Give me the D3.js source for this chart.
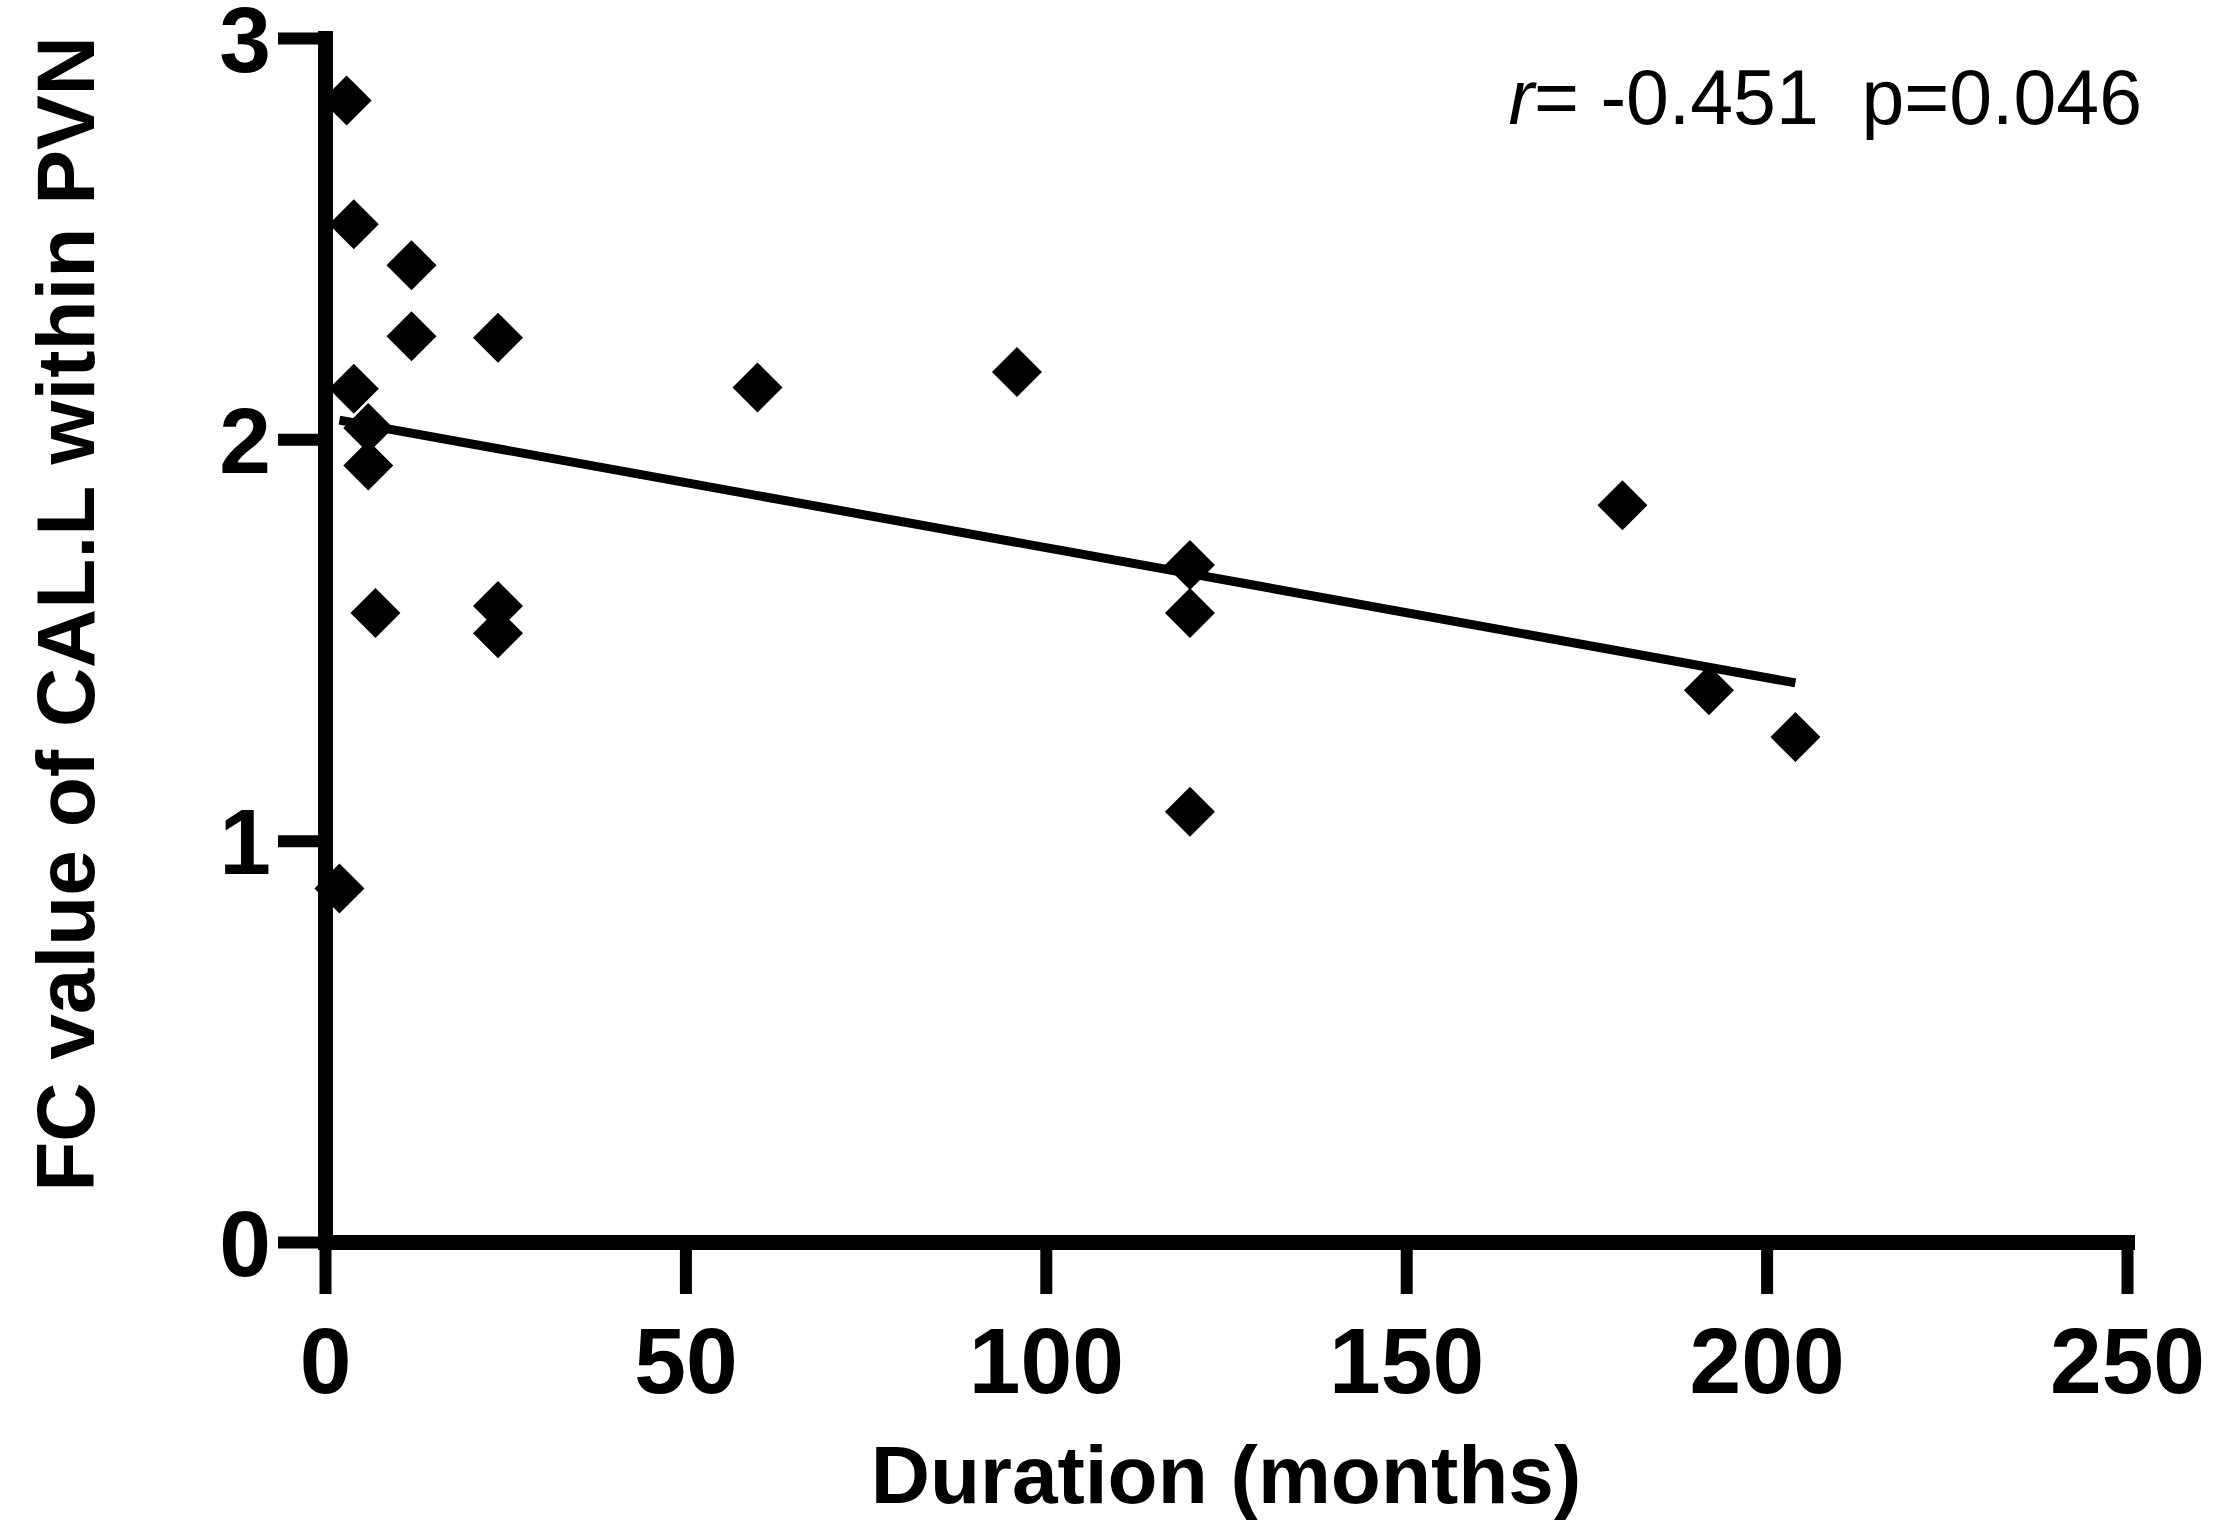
<!DOCTYPE html>
<html>
<head>
<meta charset="utf-8">
<script src="https://cdn.jsdelivr.net/npm/d3@7"></script>
<style>
  html, body { margin: 0; padding: 0; background: #fff; }
  svg { display: block; }
  text { font-family: "Liberation Sans", Arial, Helvetica, sans-serif; fill: #000; }
</style>
</head>
<body>
<svg id="chart" width="2217" height="1535"></svg>
<script>
// values
const months = [3, 4, 12, 12, 24, 4, 60, 96, 6, 6, 7, 24, 24, 2, 180, 120, 120, 120, 192, 204];
const fcValue = [2.844, 2.536, 2.434, 2.257, 2.253, 2.126, 2.129, 2.168, 2.028, 1.935,
                 1.567, 1.585, 1.517, 0.881, 1.836, 1.687, 1.567, 1.072, 1.375, 1.258];
const xTicks = [0, 50, 100, 150, 200, 250];
const yTicks = [0, 1, 2, 3];
// linear fit as drawn: from x = 2 to x = 204
const fitX = [2, 204];
const fitY = [2.048, 1.393];
const statText = { r: "r", rest: "= -0.451  p=0.046" };

const plotLeft = 325, plotRight = 2127, plotTop = 38, plotBottom = 1242;

const svg = d3.select("#chart");

const x = d3.scaleLinear().domain([0, 250]).range([plotLeft, plotRight]);
const y = d3.scaleLinear().domain([0, 3]).range([plotBottom, plotTop]);

// regression line
svg.append("line")
  .attr("x1", x(fitX[0])).attr("y1", y(fitY[0]))
  .attr("x2", x(fitX[1])).attr("y2", y(fitY[1]))
  .attr("stroke", "#000")
  .attr("stroke-width", 9);

// axes
const yAxis = svg.append("g")
  .attr("transform", `translate(${plotLeft},0)`)
  .call(d3.axisLeft(y).tickValues(yTicks).tickFormat(d3.format("d"))
    .tickSize(47).tickSizeOuter(0));

const xAxis = svg.append("g")
  .attr("transform", `translate(0,${plotBottom})`)
  .call(d3.axisBottom(x).tickValues(xTicks).tickFormat(d3.format("d"))
    .tickSize(52).tickSizeOuter(0));

[yAxis, xAxis].forEach(g => {
  g.attr("font-family", null).attr("font-size", null);
  g.select(".domain")
    .attr("stroke", "#000")
    .attr("stroke-width", 15)
    .attr("stroke-linecap", "square");
  g.selectAll(".tick line")
    .attr("stroke", "#000")
    .attr("stroke-width", 12);
  g.selectAll(".tick text")
    .style("font-size", "93px")
    .style("font-weight", "bold")
    .attr("dy", null);
});

yAxis.selectAll(".tick text")
  .attr("x", -54)
  .attr("y", 0.716 * 93 / 2)
  .attr("text-anchor", "end");

xAxis.selectAll(".tick text")
  .attr("y", 151);

// points (square diamonds), drawn over the axis
const diamond = d3.symbol().type(d3.symbolSquare).size(1250);
svg.append("g")
  .selectAll("path")
  .data(months.map((m, i) => [m, fcValue[i]]))
  .join("path")
  .attr("d", diamond)
  .attr("transform", d => `translate(${x(d[0])},${y(d[1])}) rotate(45)`)
  .attr("fill", "#000");

// axis titles
svg.append("text")
  .attr("x", (plotLeft + plotRight) / 2)
  .attr("y", 1503)
  .attr("text-anchor", "middle")
  .style("font-size", "82px")
  .style("font-weight", "bold")
  .text("Duration (months)");

svg.append("text")
  .attr("transform", "translate(94,614) rotate(-90)")
  .attr("text-anchor", "middle")
  .style("font-size", "82px")
  .style("font-weight", "bold")
  .text("FC value of CAL.L within PVN");

// correlation note
const note = svg.append("text")
  .attr("x", 2142)
  .attr("y", 124)
  .attr("text-anchor", "end")
  .style("font-size", "77px")
  .style("white-space", "pre");
note.append("tspan").style("font-style", "italic").text(statText.r);
note.append("tspan").text(statText.rest);
</script>
</body>
</html>
